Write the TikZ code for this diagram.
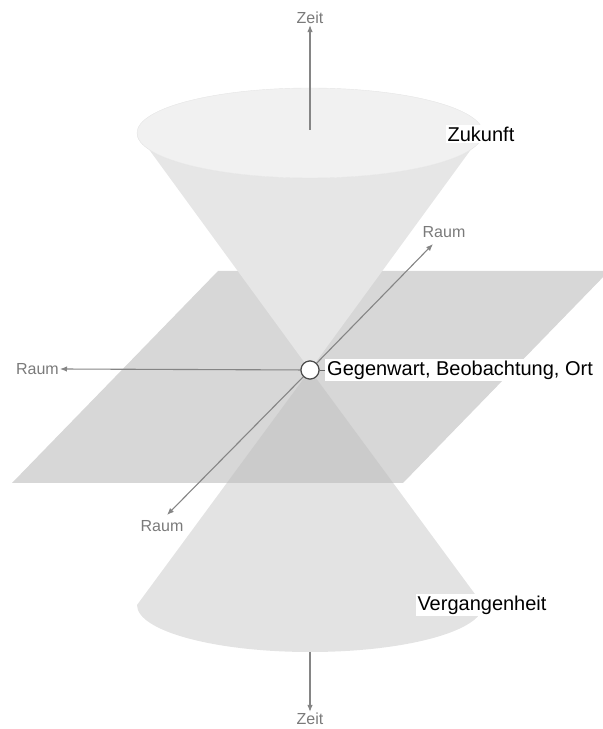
\documentclass[tikz,border=0pt]{standalone}
\usepackage{fontspec}
\setmainfont{Liberation Sans}
\usetikzlibrary{arrows.meta}
\definecolor{axisgray}{HTML}{858585}
\definecolor{labelgray}{HTML}{7A7A7A}
\definecolor{conetop}{HTML}{F1F1F1}
\definecolor{coneside}{HTML}{E6E6E6}
\definecolor{conelow}{HTML}{E3E3E3}
\definecolor{planegray}{HTML}{BCBCBC}
\begin{document}
\begin{tikzpicture}[x=1pt,y=1pt,
  axis/.style={draw=axisgray, line width=1.1pt, -{Latex[length=7pt,width=5.5pt]}},
  axislabel/.style={text=labelgray, font=\fontsize{16}{18}\selectfont, inner sep=1pt},
  biglabel/.style={fill=white, text=black, font=\fontsize{20}{23}\selectfont, inner sep=2pt},
  origin/.style={circle, draw=black!70, fill=white, line width=1.1pt, minimum size=18pt, inner sep=0pt}]
\useasboundingbox (0,0) rectangle (603,729);

% lower (past) cone
\fill[conelow] (310,359) -- (137,124) arc[start angle=180, end angle=360, x radius=173, y radius=47] -- cycle;

% spatial plane, semi-transparent
\fill[planegray, fill opacity=0.6] (218,458) -- (609,458) -- (403,246) -- (12,246) -- cycle;

% upper (future) cone
\fill[coneside] (310,359) -- (137,596) arc[start angle=180, end angle=360, x radius=173, y radius=45] -- cycle;
\filldraw[fill=conetop, draw=black!10, line width=0.4pt] (310,596) ellipse[x radius=173, y radius=45];

% named points
\coordinate (zt0) at (310,599);
\coordinate (zb0) at (310,77);
\coordinate (rtip1) at (433,485);
\coordinate (rtip2) at (167,214);
\node[origin] (o) at (310,359) {};

% axis labels
\node[axislabel] (zeitoben) at (310,711) {Zeit};
\node[axislabel] (zeitunten) at (310,10) {Zeit};
\node[axislabel, anchor=east] (raumlinks) at (60,360) {Raum};
\node[axislabel] (raumhinten) at (444,497) {Raum};
\node[axislabel] (raumvorn) at (162,203) {Raum};

% axes
\draw[axis] (zt0) -- (zeitoben.south);
\draw[axis] (zb0) -- (zeitunten.north);
\draw[axis] (o) -- (raumlinks.east);
\draw[axis] (o.center) -- (rtip1);
\draw[axis] (o.center) -- (rtip2);
\node[origin] at (o) {};

% region labels
\node[biglabel] (zukunft) at (481,595) {Zukunft};
\node[biglabel] (verg) at (482,124) {Vergangenheit};
\node[biglabel, anchor=west] (gegen) at (325,359) {Gegenwart, Beobachtung, Ort};
\draw[black!60, line width=0.8pt] (o.east) -- (gegen.west);
\end{tikzpicture}
\end{document}
